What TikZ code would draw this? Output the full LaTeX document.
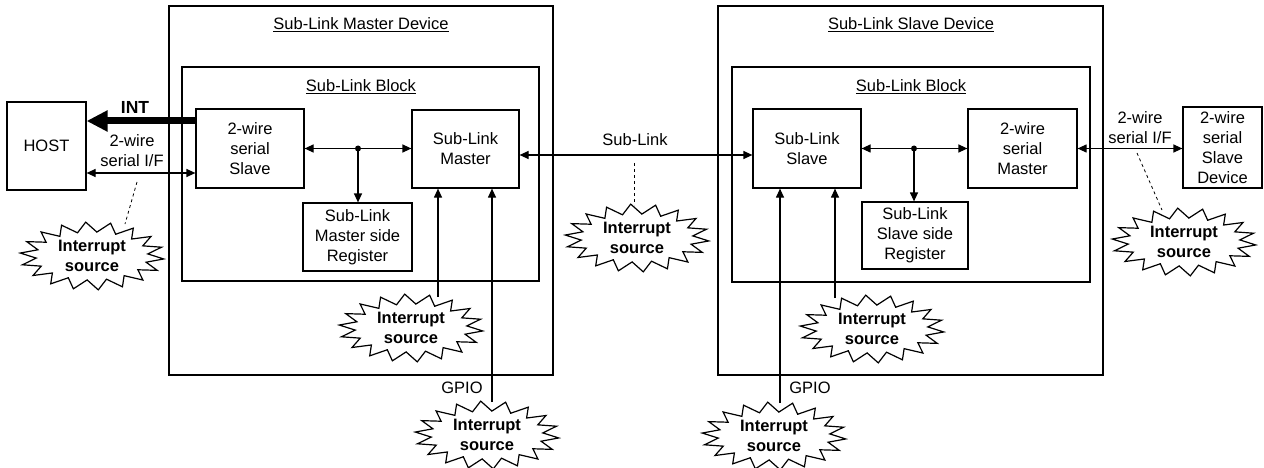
\documentclass[tikz,border=0pt]{standalone}
\usepackage{fontspec}
\setmainfont{Liberation Sans}
\usetikzlibrary{arrows.meta,calc}
\begin{document}
\begin{tikzpicture}[x=1pt,y=-1pt,
  every node/.style={font=\fontsize{16.5}{20}\selectfont, align=center},
  box/.style={draw, line width=1.2pt, inner sep=0pt},
  frame/.style={draw, line width=1.2pt, inner sep=0pt},
  title/.style={inner sep=0pt},
  burstline/.style={draw, fill=white, line width=1.2pt, line join=miter},
  bursttext/.style={inner sep=0pt, font=\fontsize{16.5}{20}\selectfont\bfseries},
  burst/.pic={
    \path[burstline] ({72*cos(5)},{34*sin(5)})
      \foreach \i [evaluate=\i as \rx using {mod(\i,2)==0 ? 72 : 56},
                   evaluate=\i as \ry using {mod(\i,2)==0 ? 34 : 24}] in {1,...,35}
      { -- ({\rx*cos(5+\i*10)},{\ry*sin(5+\i*10)}) } -- cycle;
  },
  conn/.style={line width=1.2pt},
  arr/.style={conn, -{Triangle[length=9pt,width=8pt]}},
  darr/.style={conn, {Triangle[length=9pt,width=8pt]}-{Triangle[length=9pt,width=8pt]}},
  intarr/.style={line width=7pt, -{Triangle[length=21pt,width=20pt]}},
  dashline/.style={line width=0.8pt, dashed},
  busdot/.style={circle, fill, inner sep=0pt, minimum size=6pt}
]
\useasboundingbox (0,0) rectangle (1264,468);

% ---- outer frames and blocks
\node[frame, minimum width=384pt, minimum height=369pt] (mdev) at (361,190.5) {};
\node[frame, minimum width=357pt, minimum height=214pt] (mblk) at (360.5,174) {};
\node[title] (mdevt) at (361,25) {\underline{Sub-Link Master Device}};
\node[title] (mblkt) at (361,87) {\underline{Sub-Link Block}};

\node[frame, minimum width=385pt, minimum height=369pt] (sdev) at (910.5,190.5) {};
\node[frame, minimum width=358pt, minimum height=215pt] (sblk) at (911,174.5) {};
\node[title] (sdevt) at (911,25) {\underline{Sub-Link Slave Device}};
\node[title] (sblkt) at (911,87) {\underline{Sub-Link Block}};

% ---- boxes
\node[box, minimum width=79pt, minimum height=88pt] (host) at (46.5,146) {HOST};
\node[box, minimum width=108pt, minimum height=79pt] (mslv) at (250,148.5) {2-wire\\serial\\Slave};
\node[box, minimum width=107pt, minimum height=78pt] (mmst) at (465.5,149) {Sub-Link\\Master};
\node[box, minimum width=109pt, minimum height=68pt] (mreg) at (357.5,237) {Sub-Link\\Master side\\Register};

\node[box, minimum width=108pt, minimum height=79pt] (sslv) at (807,148.5) {Sub-Link\\Slave};
\node[box, minimum width=109pt, minimum height=79pt] (smst) at (1022.5,148.5) {2-wire\\serial\\Master};
\node[box, minimum width=106pt, minimum height=67pt] (sreg) at (915,235.5) {Sub-Link\\Slave side\\Register};
\node[box, minimum width=79pt, minimum height=81pt] (ext) at (1222.5,147.5) {2-wire\\serial\\Slave\\Device};

% ---- interrupt sources
\pic at (92,256) {burst};   \node[bursttext] (b1) at (92,256) {Interrupt\\source};
\pic at (411,328) {burst};  \node[bursttext] (b2) at (411,328) {Interrupt\\source};
\pic at (487,435) {burst};  \node[bursttext] (b3) at (487,435) {Interrupt\\source};
\pic at (637,238) {burst};  \node[bursttext] (b4) at (637,238) {Interrupt\\source};
\pic at (872,329) {burst};  \node[bursttext] (b5) at (872,329) {Interrupt\\source};
\pic at (774,436) {burst};  \node[bursttext] (b6) at (774,436) {Interrupt\\source};
\pic at (1184,242) {burst}; \node[bursttext] (b7) at (1184,242) {Interrupt\\source};

\coordinate (b1t) at (125,224);
\coordinate (b2t) at (438,297);
\coordinate (b3t) at (492,402);
\coordinate (b4t) at (634,205);
\coordinate (b5t) at (835,298);
\coordinate (b6t) at (780,403);
\coordinate (b7t) at (1162,210);

% ---- host side
\draw[intarr] ([yshift=27.5pt]mslv.west) -- ([yshift=27.5pt]mslv.west -| host.east);
\node[font=\fontsize{17.5}{20}\selectfont\bfseries] (intl) at (135,107) {INT};
\draw[darr] ([yshift=-24.5pt]mslv.west -| host.east) -- ([yshift=-24.5pt]mslv.west);
\node (iflm) at (132,150.5) {2-wire\\serial I/F};
\coordinate (d1a) at (137,182);
\draw[dashline] (d1a) -- (b1t);

% ---- master bus
\coordinate (mdot) at (358,148.5);
\draw[darr] (mslv.east) -- (mslv.east -| mmst.west);
\node[busdot] at (mdot) {};
\draw[arr] (mdot) -- (mdot |- mreg.north);

% ---- master interrupt inputs
\draw[arr] (b2t) -- (b2t |- mmst.south);
\draw[arr] (b3t) -- (b3t |- mmst.south);
\node (gpiom) at (462,388) {GPIO};

% ---- sub-link
\draw[darr] ([yshift=-6pt]mmst.east) -- ([yshift=-6pt]mmst.east -| sslv.west);
\node (sll) at (635,140) {Sub-Link};
\coordinate (d4a) at (634,163);
\draw[dashline] (d4a) -- (b4t);

% ---- slave bus
\coordinate (sdot) at (914,148.5);
\draw[darr] (sslv.east) -- (sslv.east -| smst.west);
\node[busdot] at (sdot) {};
\draw[arr] (sdot) -- (sdot |- sreg.north);

% ---- slave interrupt inputs
\draw[arr] (b5t) -- (b5t |- sslv.south);
\draw[arr] (b6t) -- (b6t |- sslv.south);
\node (gpios) at (810,388) {GPIO};

% ---- right side
\draw[darr] (smst.east) -- (smst.east -| ext.west);
\node (ifls) at (1140,128) {2-wire\\serial I/F};
\coordinate (d7a) at (1137,153);
\draw[dashline] (d7a) -- (b7t);
\end{tikzpicture}
\end{document}
